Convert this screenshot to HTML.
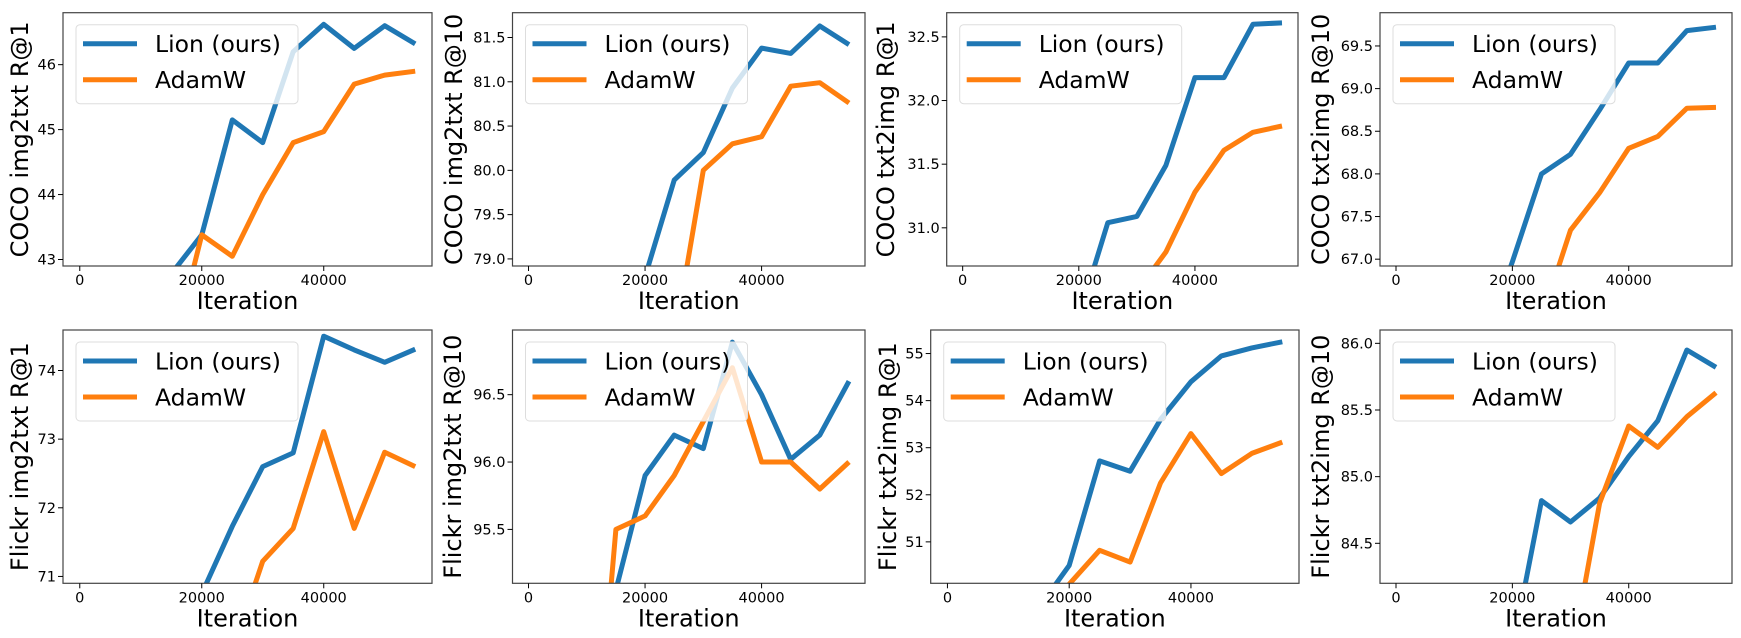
<!DOCTYPE html>
<html><head><meta charset="utf-8"><style>
html,body{margin:0;padding:0;background:#fff;width:1741px;height:638px;overflow:hidden;}
svg{display:block;font-family:"DejaVu Sans","Liberation Sans",sans-serif;}
</style></head><body>
<svg id="fig" width="1741" height="638" viewBox="0 0 1741 638" xmlns="http://www.w3.org/2000/svg"></svg>
<script>
const iterations = [10000, 15000, 20000, 25000, 30000, 35000, 40000, 45000, 50000, 55000];
const xTicks = [0, 20000, 40000];
const titles = ["COCO img2txt R@1","COCO img2txt R@10","COCO txt2img R@1","COCO txt2img R@10",
                "Flickr img2txt R@1","Flickr img2txt R@10","Flickr txt2img R@1","Flickr txt2img R@10"];
const lion1 = [42.0,42.78,43.38,45.15,44.8,46.2,46.62,46.25,46.6,46.32];
const adam1 = [40.5,41.5,43.38,43.05,44.0,44.8,44.97,45.7,45.84,45.9];
const lion2 = [76.5,77.5,78.8,79.89,80.2,80.93,81.38,81.32,81.63,81.42];
const adam2 = [75.0,76.0,77.1,78.07,80.0,80.3,80.38,80.95,80.99,80.76];
const lion3 = [29.0,29.6,30.3,31.04,31.09,31.49,32.18,32.18,32.6,32.61];
const adam3 = [28.0,28.5,29.5,30.0,30.5,30.81,31.28,31.61,31.75,31.8];
const lion4 = [65.0,66.0,66.97,68.0,68.23,68.75,69.3,69.3,69.68,69.72];
const adam4 = [63.5,64.5,65.5,66.3,67.34,67.78,68.3,68.44,68.77,68.78];
const lion5 = [68.5,69.5,70.75,71.73,72.6,72.8,74.5,74.3,74.12,74.31];
const adam5 = [67.0,68.0,69.0,69.9,71.22,71.7,73.11,71.7,72.81,72.6];
const lion6 = [94.2,95.05,95.9,96.2,96.1,96.89,96.5,96.02,96.2,96.6];
const adam6 = [93.0,95.5,95.6,95.9,96.3,96.7,96.0,96.0,95.8,96.0];
const lion7 = [48.5,49.6,50.5,52.72,52.5,53.6,54.4,54.95,55.12,55.25];
const adam7 = [48.5,49.3,50.1,50.82,50.57,52.25,53.3,52.45,52.88,53.12];
const lion8 = [81.5,82.5,83.7,84.82,84.66,84.84,85.15,85.42,85.95,85.82];
const adam8 = [81.0,82.0,82.8,82.9,83.6,84.8,85.38,85.22,85.45,85.63];
const yTicks = [[43,44,45,46],[79.0,79.5,80.0,80.5,81.0,81.5],[31.0,31.5,32.0,32.5],[67.0,67.5,68.0,68.5,69.0,69.5],
                [71,72,73,74],[95.5,96.0,96.5],[51,52,53,54,55],[84.5,85.0,85.5,86.0]];
const yDecimals = [0,1,1,1,0,1,0,1];
const yLims = [[42.9,46.8],[78.92,81.78],[30.70,32.69],[66.92,69.89],[70.90,74.59],[95.10,96.98],[50.12,55.5],[84.2,86.1]];
const lionSeries = [lion1,lion2,lion3,lion4,lion5,lion6,lion7,lion8];
const adamSeries = [adam1,adam2,adam3,adam4,adam5,adam6,adam7,adam8];

// layout (not data)
const boxes = [[63,12.7,432,266],[512.5,12.7,865,266],[946.7,12.7,1298,266],[1380,12.7,1732,266],
               [63,330,432,583.3],[512.5,330,865,583.3],[930.7,330,1299,583.3],[1380,330,1732,583.3]];
const ylabelX = [20,454,886,1321,20,453,888,1321];
const XMIN=-2750, XMAX=57750;
const NS="http://www.w3.org/2000/svg";
const svg=document.getElementById('fig');
function mk(tag,attrs,parent){const e=document.createElementNS(NS,tag);for(const k in attrs)e.setAttribute(k,attrs[k]);(parent||svg).appendChild(e);return e;}

for(let i=0;i<8;i++){
  const [x0,y0,x1,y1]=boxes[i];
  const g=mk('g',{});
  
  
  const sx=v=>x0+(v-XMIN)/(XMAX-XMIN)*(x1-x0);
  const sy=v=>y1-(v-yLims[i][0])/(yLims[i][1]-yLims[i][0])*(y1-y0);
  const cp=mk('clipPath',{id:'c'+i},g);
  mk('rect',{x:x0,y:y0,width:x1-x0,height:y1-y0},cp);
  [[lionSeries[i],'#1f77b4','lion-line'],[adamSeries[i],'#ff7f0e','adamw-line']].forEach(([s,c,n])=>{
    const pts=iterations.map((x,k)=>sx(x).toFixed(1)+','+sy(s[k]).toFixed(1)).join(' ');
    const pl=mk('polyline',{points:pts,fill:'none',stroke:c,'stroke-width':5,'stroke-linejoin':'round','clip-path':'url(#c'+i+')'},g);
    
    
  });
  const fr=mk('rect',{x:x0,y:y0,width:x1-x0,height:y1-y0,fill:'none',stroke:'#444','stroke-width':1.2},g);
  
  
  xTicks.forEach(t=>{
    const x=sx(t);
    mk('line',{x1:x,y1:y1,x2:x,y2:y1+5,stroke:'#000','stroke-width':1},g);
    const tx=mk('text',{x:x,y:y1+19,'font-size':14.5,'text-anchor':'middle',fill:'#000'},g);
    tx.textContent=String(t);
    
    
  });
  yTicks[i].forEach(t=>{
    const y=sy(t);
    mk('line',{x1:x0-5,y1:y,x2:x0,y2:y,stroke:'#000','stroke-width':1},g);
    const tx=mk('text',{x:x0-7,y:y+5,'font-size':14.5,'text-anchor':'end',fill:'#000'},g);
    tx.textContent=t.toFixed(yDecimals[i]);
    
    
  });
  const xl=mk('text',{x:(x0+x1)/2,y:y1+43,'font-size':24,'text-anchor':'middle',fill:'#000'},g);
  xl.textContent='Iteration';
  
  
  const cy=(y0+y1)/2;
  const yl=mk('text',{x:ylabelX[i],y:cy,'font-size':24,'text-anchor':'middle','dominant-baseline':'central',fill:'#000',transform:'rotate(-90 '+ylabelX[i]+' '+cy+')'},g);
  yl.textContent=titles[i];
  
  
  const lg=mk('g',{},g);
  
  
  const lx=x0+13, ly=y0+12;
  mk('rect',{x:lx,y:ly,width:222,height:79,rx:4,fill:'rgba(255,255,255,0.8)',stroke:'#ddd','stroke-width':1},lg);
  [['Lion (ours)','#1f77b4',19],['AdamW','#ff7f0e',55]].forEach(([lab,c,dy])=>{
    const e=mk('g',{},lg);
    
    
    mk('line',{x1:lx+7,y1:ly+dy,x2:lx+61,y2:ly+dy,stroke:c,'stroke-width':5},e);
    const t=mk('text',{x:lx+79,y:ly+dy+8.5,'font-size':23.5,fill:'#000'},e);
    t.textContent=lab;
  });
}
</script>
</body></html>
